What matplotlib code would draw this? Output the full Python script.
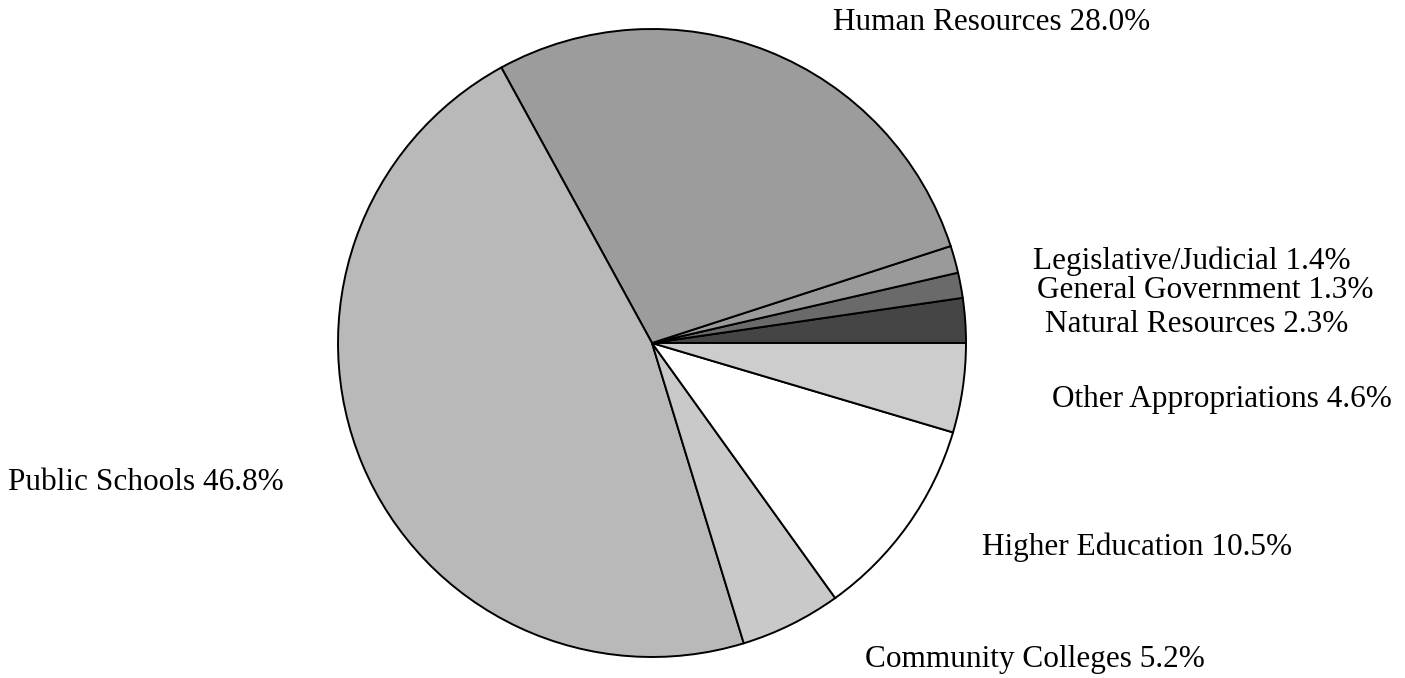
import matplotlib
matplotlib.use('Agg')
import matplotlib.pyplot as plt

# budget shares, counter-clockwise from 3 o'clock
categories = ['Natural Resources', 'General Government', 'Legislative/Judicial',
              'Human Resources', 'Public Schools', 'Community Colleges',
              'Higher Education', 'Other Appropriations']
shares = [2.3, 1.3, 1.4, 28.0, 46.8, 5.2, 10.5, 4.6]
shades = ['#454545', '#6a6a6a', '#9a9a9a', '#9c9c9c', '#b9b9b9', '#c9c9c9',
          '#ffffff', '#cdcdcd']

# label anchor points (pixels, left edge / vertical centre)
label_xy = [(1045, 325), (1037, 290), (1033, 261), (833, 22), (8, 482),
            (865, 660), (982, 547), (1052, 400)]

W, H = 1405, 678
fig = plt.figure(figsize=(W / 100, H / 100), dpi=100)
ax = fig.add_axes([0, 0, 1, 1])

ax.pie(shares, colors=shades, startangle=0, counterclock=True,
       center=(652, H - 343), radius=314,
       wedgeprops={'edgecolor': 'black', 'linewidth': 1.4})
ax.set_xlim(0, W)
ax.set_ylim(0, H)
ax.set_aspect('equal')
ax.axis('off')

for name, val, (x, y) in zip(categories, shares, label_xy):
    ax.text(x, H - y, f'{name} {val:.1f}%', ha='left', va='center',
            fontsize=22.5, family='Liberation Serif')

fig.savefig('out.png', dpi=100)
